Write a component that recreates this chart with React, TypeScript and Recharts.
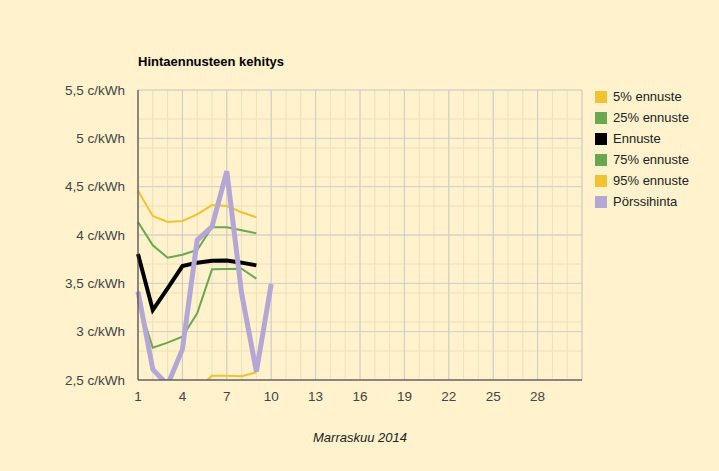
import React from "react";
import {
  CartesianGrid,
  Line,
  LineChart,
  XAxis,
  YAxis,
} from "recharts";

// ─── Data ────────────────────────────────────────────────────

const days = [1, 2, 3, 4, 5, 6, 7, 8, 9, 10];

const p5 = [2.2, 2.25, 2.3, 2.35, 2.4, 2.545, 2.545, 2.54, 2.58, null];
const p25 = [3.31, 2.834, 2.886, 2.948, 3.19, 3.645, 3.648, 3.652, 3.548, null];
const median = [3.803, 3.224, 3.449, 3.679, 3.714, 3.734, 3.735, 3.714, 3.686, null];
const p75 = [4.135, 3.893, 3.765, 3.796, 3.845, 4.08, 4.08, 4.05, 4.017, null];
const p95 = [4.458, 4.197, 4.135, 4.145, 4.214, 4.31, 4.3, 4.235, 4.183, null];
const spot = [3.414, 2.61, 2.45, 2.817, 3.948, 4.086, 4.66, 3.397, 2.586, 3.493];

const xTicks = [1, 4, 7, 10, 13, 16, 19, 22, 25, 28];
const yTicks = [2.5, 3, 3.5, 4, 4.5, 5, 5.5];
const xMinor = Array.from({ length: 31 }, (_, i) => i + 1);
const yMinor = Array.from({ length: 31 }, (_, i) => Math.round((2.5 + i * 0.1) * 10) / 10);

const series = [
  { key: "p5", label: "5% ennuste", color: "#f1c232", width: 2 },
  { key: "p25", label: "25% ennuste", color: "#6aa84f", width: 2 },
  { key: "median", label: "Ennuste", color: "#000000", width: 4 },
  { key: "p75", label: "75% ennuste", color: "#6aa84f", width: 2 },
  { key: "p95", label: "95% ennuste", color: "#f1c232", width: 2 },
  { key: "spot", label: "Pörssihinta", color: "#b4a7d6", width: 5 },
];

const data = days.map((d, i) => ({
  day: d,
  p5: p5[i],
  p25: p25[i],
  median: median[i],
  p75: p75[i],
  p95: p95[i],
  spot: spot[i],
}));

// ─── Styles ──────────────────────────────────────────────────

const font = "Arial, 'Liberation Sans', sans-serif";
const bg = "#fff2cc";

const fmtY = (v: number) => `${String(v).replace(".", ",")} c/kWh`;

export default function App() {
  return (
    <div
      style={{
        position: "absolute",
        left: 0,
        top: 0,
        width: 719,
        height: 471,
        background: bg,
        fontFamily: font,
      }}
    >
      <div
        style={{
          position: "absolute",
          left: 138,
          top: 54,
          fontSize: 13,
          fontWeight: "bold",
          color: "#000",
        }}
      >
        Hintaennusteen kehitys
      </div>

      <LineChart
        width={719}
        height={471}
        data={data}
        margin={{ top: 90, right: 137, left: 0, bottom: 61 }}
        style={{ fontFamily: font }}
      >
        <CartesianGrid
          stroke="#ece0bd"
          strokeWidth={1}
          horizontalValues={yMinor}
          verticalValues={xMinor}
        />
        <CartesianGrid stroke="#cccccc" strokeWidth={1} />
        <XAxis
          dataKey="day"
          type="number"
          domain={[1, 31]}
          ticks={xTicks}
          interval={0}
          height={30}
          tickSize={0}
          tickMargin={11}
          axisLine={{ stroke: "#333333" }}
          tick={{ fill: "#444444", fontSize: 13.5 }}
          label={{
            value: "Marraskuu 2014",
            position: "bottom",
            offset: 23,
            fill: "#222222",
            fontSize: 13,
            fontStyle: "italic",
          }}
        />
        <YAxis
          type="number"
          domain={[2.5, 5.5]}
          ticks={yTicks}
          allowDataOverflow
          width={138}
          tickSize={0}
          tickMargin={13}
          tickFormatter={fmtY}
          axisLine={{ stroke: "#333333" }}
          tick={{ fill: "#444444", fontSize: 13.5 }}
        />
        {series.map((s) => (
          <Line
            key={s.key}
            type="linear"
            dataKey={s.key}
            name={s.label}
            stroke={s.color}
            strokeWidth={s.width}
            dot={false}
            activeDot={false}
            connectNulls={false}
            isAnimationActive={false}
          />
        ))}
      </LineChart>

      <div style={{ position: "absolute", left: 595, top: 86 }}>
        {series.map((s) => (
          <div
            key={s.key}
            style={{ display: "flex", alignItems: "center", height: 21 }}
          >
            <div style={{ width: 12, height: 12, background: s.color, marginRight: 6 }} />
            <span style={{ fontSize: 13, color: "#222222" }}>{s.label}</span>
          </div>
        ))}
      </div>
    </div>
  );
}
